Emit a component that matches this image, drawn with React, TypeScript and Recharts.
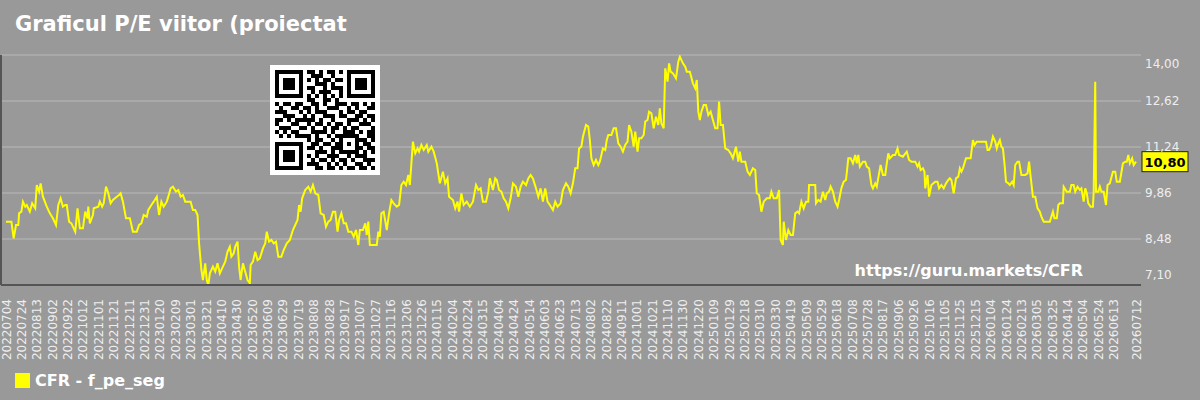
import React from "react";
import { LineChart, Line, XAxis, YAxis, CartesianGrid, ReferenceLine } from "recharts";

const title = "Graficul P/E viitor (proiectat";
const seriesName = "CFR - f_pe_seg";
const watermark = "https://guru.markets/CFR";

// x ticks, every 20 days + last day
const tickLabels = [
  "20220704", "20220724", "20220813", "20220902", "20220922", "20221012", "20221101", "20221121",
  "20221211", "20221231", "20230120", "20230209", "20230301", "20230321", "20230410", "20230430",
  "20230520", "20230609", "20230629", "20230719", "20230808", "20230828", "20230917", "20231007",
  "20231027", "20231116", "20231206", "20231226", "20240115", "20240204", "20240224", "20240315",
  "20240404", "20240424", "20240514", "20240603", "20240623", "20240713", "20240802", "20240822",
  "20240911", "20241001", "20241021", "20241110", "20241130", "20241220", "20250109", "20250129",
  "20250218", "20250310", "20250330", "20250419", "20250509", "20250529", "20250618", "20250708",
  "20250728", "20250817", "20250906", "20250926", "20251016", "20251105", "20251125", "20251215",
  "20260104", "20260124", "20260213", "20260305", "20260325", "20260414", "20260504", "20260524",
  "20260613", "20260712",
];

const yTicks = [7.1, 8.48, 9.86, 11.24, 12.62, 14.0];

// days since 2022-07-04
const dayOffsets = [
  0, 7, 10, 13, 16, 17, 20, 22, 25, 27,
  31, 34, 38, 40, 43, 45, 48, 53, 57, 61,
  65, 68, 71, 74, 77, 79, 82, 85, 90, 93,
  96, 100, 103, 106, 107, 109, 113, 114, 120, 122,
  125, 127, 130, 133, 136, 139, 144, 147, 149, 152,
  156, 161, 165, 170, 173, 176, 179, 183, 185, 189,
  192, 196, 199, 202, 205, 209, 211, 214, 217, 221,
  224, 227, 230, 233, 240, 243, 246, 249, 251, 254,
  256, 259, 261, 263, 265, 269, 272, 275, 278, 282,
  285, 288, 291, 293, 296, 298, 301, 303, 305, 308,
  311, 314, 317, 318, 321, 324, 327, 330, 334, 337,
  339, 342, 345, 348, 351, 354, 358, 361, 365, 369,
  373, 376, 379, 381, 383, 385, 389, 393, 396, 399,
  402, 406, 409, 413, 416, 419, 422, 425, 428, 431,
  433, 436, 439, 442, 445, 449, 452, 455, 458, 460,
  464, 467, 469, 471, 473, 482, 484, 486, 488, 491,
  495, 498, 501, 504, 508, 511, 514, 517, 520, 523,
  525, 529, 532, 535, 537, 540, 543, 547, 549, 553,
  556, 560, 564, 568, 571, 574, 576, 581, 584, 587,
  589, 592, 595, 599, 603, 607, 611, 614, 617, 620,
  624, 627, 629, 633, 636, 638, 641, 644, 647, 650,
  653, 656, 659, 663, 666, 669, 672, 676, 679, 682,
  685, 689, 692, 695, 698, 701, 704, 707, 711, 714,
  717, 721, 724, 728, 731, 734, 737, 740, 743, 745,
  748, 750, 754, 757, 759, 761, 764, 767, 770, 772,
  776, 779, 781, 783, 787, 790, 793, 796, 799, 802,
  805, 808, 810, 813, 816, 818, 821, 823, 826, 829,
  831, 834, 836, 839, 842, 845, 848, 850, 852, 855,
  857, 860, 862, 864, 867, 871, 874, 876, 880, 883,
  885, 889, 893, 896, 898, 900, 902, 904, 907, 910,
  913, 916, 919, 922, 925, 927, 929, 932, 935, 939,
  942, 945, 949, 952, 954, 956, 961, 964, 967, 971,
  974, 976, 979, 982, 985, 989, 993, 995, 998, 1002,
  1005, 1007, 1010, 1011, 1014, 1017, 1020, 1023, 1026, 1029,
  1031, 1034, 1037, 1040, 1043, 1044, 1052, 1053, 1056, 1059,
  1062, 1065, 1067, 1070, 1072, 1075, 1078, 1081, 1083, 1086,
  1089, 1092, 1095, 1098, 1101, 1104, 1106, 1108, 1110, 1114,
  1117, 1119, 1122, 1125, 1127, 1130, 1132, 1135, 1137, 1140,
  1143, 1145, 1147, 1149, 1153, 1156, 1159, 1161, 1166, 1171,
  1174, 1177, 1182, 1185, 1187, 1189, 1192, 1194, 1195, 1198,
  1200, 1203, 1208, 1211, 1213, 1216, 1219, 1222, 1225, 1227,
  1229, 1232, 1235, 1238, 1240, 1242, 1244, 1248, 1254, 1257,
  1259, 1262, 1274, 1276, 1278, 1280, 1283, 1286, 1288, 1290,
  1292, 1294, 1296, 1298, 1300, 1303, 1305, 1308, 1310, 1312,
  1315, 1317, 1320, 1325, 1328, 1330, 1332, 1335, 1338, 1341,
  1344, 1346, 1349, 1357, 1361, 1363, 1366, 1368, 1370, 1374,
  1375, 1379, 1383, 1385, 1388, 1390, 1393, 1396, 1398, 1401,
  1403, 1405, 1407, 1410, 1413, 1414, 1416, 1417, 1420, 1422,
  1424, 1427, 1430, 1432, 1435, 1439, 1442, 1444, 1448, 1452,
  1455, 1457, 1459, 1461, 1464, 1466, 1469,
];

const peValues = [
  9.0, 9.0, 8.5, 8.9, 8.9, 9.25, 9.3, 9.6, 9.45, 9.5,
  9.3, 9.55, 9.4, 10.1, 9.9, 10.15, 9.75, 9.45, 9.25, 9.1,
  8.9, 9.5, 9.7, 9.45, 9.5, 9.5, 9.0, 8.95, 8.7, 9.4,
  8.8, 8.8, 9.3, 9.1, 9.45, 8.95, 9.2, 9.4, 9.45, 9.6,
  9.45, 9.55, 10.05, 9.85, 9.55, 9.65, 9.75, 9.8, 9.85, 9.6,
  9.1, 9.1, 8.7, 8.7, 8.9, 8.95, 9.2, 9.15, 9.35, 9.5,
  9.6, 9.75, 9.2, 9.6, 9.45, 9.6, 9.75, 10.0, 10.05, 9.9,
  9.95, 9.75, 9.8, 9.6, 9.6, 9.35, 9.35, 9.2, 8.35, 7.55,
  7.25, 7.75, 7.25, 7.08, 7.45, 7.65, 7.5, 7.75, 7.45, 7.65,
  7.8, 8.1, 8.25, 7.95, 8.05, 8.25, 8.4, 7.65, 7.25, 7.75,
  7.5, 7.25, 7.15, 7.7, 7.8, 8.1, 7.85, 7.9, 8.2, 8.35,
  8.7, 8.4, 8.45, 8.35, 8.4, 7.95, 7.95, 8.15, 8.35, 8.45,
  8.75, 8.9, 9.05, 9.5, 9.3, 9.7, 9.95, 10.05, 9.9, 10.1,
  9.85, 9.8, 9.25, 9.2, 8.85, 9.0, 9.05, 9.3, 9.3, 8.7,
  9.05, 9.25, 8.95, 8.95, 8.7, 8.7, 8.55, 8.75, 8.3, 8.75,
  8.75, 8.95, 8.6, 9.0, 8.3, 8.3, 8.7, 8.55, 9.25, 9.3,
  8.75, 9.25, 9.65, 9.55, 9.45, 9.5, 10.1, 10.2, 10.1, 10.4,
  10.1, 11.4, 11.05, 11.2, 11.1, 11.3, 11.15, 11.3, 11.1, 11.25,
  11.1, 10.75, 10.15, 10.5, 10.15, 10.3, 9.75, 9.65, 9.4, 9.6,
  9.3, 9.85, 9.5, 9.6, 9.45, 9.6, 10.1, 9.95, 10.0, 9.6,
  9.6, 9.9, 10.3, 9.95, 10.3, 10.25, 9.95, 9.9, 9.7, 9.6,
  9.4, 9.7, 10.15, 10.05, 9.75, 10.05, 10.2, 10.1, 10.3, 10.4,
  10.3, 10.0, 9.75, 10.0, 9.6, 10.0, 9.6, 9.5, 9.35, 9.6,
  9.45, 9.55, 9.95, 10.15, 10.05, 9.85, 10.15, 10.6, 10.6, 11.2,
  11.25, 11.55, 11.9, 11.85, 11.45, 10.9, 10.7, 10.85, 10.7, 10.8,
  11.2, 11.15, 11.45, 11.6, 11.6, 11.8, 11.8, 11.35, 11.25, 11.1,
  11.3, 11.4, 11.9, 11.7, 11.25, 11.7, 11.1, 11.5, 11.5, 11.6,
  12.0, 12.05, 12.3, 12.25, 11.8, 12.15, 11.9, 12.4, 11.95, 11.8,
  13.6, 13.2, 13.75, 13.5, 13.45, 13.3, 13.8, 13.95, 13.75, 13.65,
  13.5, 13.5, 13.15, 13.0, 13.25, 12.3, 12.05, 12.3, 12.5, 12.5,
  12.2, 12.3, 12.05, 11.8, 11.8, 12.6, 11.9, 11.9, 11.2, 11.15,
  11.05, 10.9, 11.25, 10.8, 11.1, 10.8, 10.8, 10.5, 10.4, 10.6,
  10.55, 9.85, 9.8, 9.3, 9.6, 9.7, 9.7, 9.9, 9.7, 9.7,
  9.95, 8.45, 8.3, 9.0, 8.45, 8.75, 8.6, 8.6, 9.25, 9.3,
  9.25, 9.6, 9.4, 9.6, 9.6, 10.1, 10.1, 9.55, 9.65, 9.6,
  9.9, 9.65, 9.85, 9.9, 10.05, 9.9, 9.6, 9.45, 9.65, 10.0,
  10.2, 10.25, 10.9, 10.9, 10.75, 11.0, 10.75, 11.0, 10.65, 10.8,
  10.8, 10.65, 10.6, 10.1, 10.0, 10.15, 10.05, 10.45, 10.7, 10.4,
  10.4, 10.75, 11.05, 10.9, 11.0, 11.0, 11.2, 11.0, 10.95, 11.1,
  10.85, 10.8, 10.8, 10.65, 10.75, 10.55, 10.6, 10.5, 10.0, 10.4,
  9.75, 10.1, 10.2, 10.2, 10.0, 10.1, 10.0, 10.15, 10.25, 10.3,
  10.25, 9.85, 10.3, 10.35, 10.6, 10.5, 10.6, 10.9, 10.9, 11.45,
  11.3, 11.4, 11.4, 11.15, 11.15, 11.25, 11.55, 11.4, 11.2, 11.35,
  11.45, 11.25, 11.2, 10.75, 10.2, 10.15, 10.1, 10.2, 10.1, 10.7,
  10.8, 10.8, 10.4, 10.4, 10.45, 10.8, 10.35, 9.75, 9.75, 9.4,
  9.3, 9.15, 9.0, 9.0, 9.3, 9.1, 9.1, 9.5, 9.55, 9.55,
  10.05, 9.9, 9.9, 10.1, 10.1, 9.9, 10.05, 9.95, 10.0, 9.6,
  10.0, 9.85, 9.55, 9.45, 9.45, 9.9, 13.2, 9.9, 9.9, 10.05,
  9.9, 9.9, 9.5, 10.1, 10.15, 10.5, 10.5, 10.2, 10.2, 10.75,
  10.8, 10.8, 11.0, 10.75, 10.9, 10.7, 10.8,
];

// QR code picture in the corner (25x25 modules)
const qrRows = [
  "1111111011010110101111111",
  "1000001001110010001000001",
  "1011101010101101101011101",
  "1011101000111010001011101",
  "1011101011001011101011101",
  "1000001001011100101000001",
  "1111111010101010101111111",
  "0000000011001101000000000",
  "1011011001101001110110101",
  "0100110110100111001010011",
  "1110001010111000101101100",
  "0011100101001110110011011",
  "1101011111010010001110101",
  "1000110010110101101001110",
  "0111001101001011010110001",
  "1010110001111010011101011",
  "0101011110100101111110011",
  "0000000010110010100011101",
  "1111111001101101101010110",
  "1000001011010011100011011",
  "1011101000111010111110101",
  "1011101010100111001011100",
  "1011101001011010110100111",
  "1000001011100101010011010",
  "1111111000110110101101101",
];

const FONT = "DejaVu Sans, Verdana, sans-serif";
const BG = "#999999";
const LINE = "#ffff00";
const TEXT = "#eeeeee";

function toDay(s: string) {
  const t = Date.UTC(+s.slice(0, 4), +s.slice(4, 6) - 1, +s.slice(6, 8));
  const t0 = Date.UTC(2022, 6, 4);
  return Math.round((t - t0) / 86400000);
}

const tickDays = tickLabels.map(toDay);
const labelByDay = new Map(tickDays.map((d, i) => [d, tickLabels[i]]));
const data = dayOffsets.map((d, i) => ({ day: d, pe: peValues[i] }));
const lastValue = peValues[peValues.length - 1];
const fmt = (v: number) => v.toFixed(2).replace(".", ",");

// eslint-disable-next-line @typescript-eslint/no-explicit-any
function DateTick({ x, y, payload }: any) {
  return (
    <g transform={`translate(${x + 4.5},${y + 6}) rotate(-90)`}>
      <text textAnchor="end" fill={TEXT} fontSize={12} fontFamily={FONT}>
        {labelByDay.get(payload.value)}
      </text>
    </g>
  );
}

// eslint-disable-next-line @typescript-eslint/no-explicit-any
function ValueTick({ x, y, payload }: any) {
  const v = payload.value;
  // edge labels are kept inside the plot height
  const shift = v === yTicks[yTicks.length - 1] ? 9 : v === yTicks[0] ? -10 : 0;
  return (
    <text x={x - 4} y={y + shift + 4} textAnchor="start" fill={TEXT} fontSize={12} fontFamily={FONT}>
      {fmt(v)}
    </text>
  );
}

// eslint-disable-next-line @typescript-eslint/no-explicit-any
function LastLabel({ viewBox }: any) {
  if (!viewBox) return null;
  const x = viewBox.x + viewBox.width + 1;
  const y = viewBox.y;
  return (
    <g>
      <rect x={x} y={y - 10} width={46} height={20} fill={LINE} stroke="#222" strokeWidth={1} />
      <text x={x + 23} y={y + 5} textAnchor="middle" fontWeight="bold" fontSize={13} fontFamily={FONT} fill="#000">
        {fmt(lastValue)}
      </text>
    </g>
  );
}

function Overlay() {
  const qx = 275;
  const qy = 70;
  const m = 4;
  return (
    <svg width={1200} height={400} style={{ position: "absolute", left: 0, top: 0, pointerEvents: "none" }}>
      <text x={15} y={31} fill="#fff" fontWeight="bold" fontSize={21} fontFamily={FONT}>
        {title}
      </text>
      <rect x={270} y={65} width={110} height={110} fill="#fff" />
      {qrRows.map((row, r) =>
        row.split("").map((c, col) =>
          c === "1" ? <rect key={`${r}-${col}`} x={qx + col * m} y={qy + r * m} width={m} height={m} fill="#000" /> : null
        )
      )}
      <text x={1083} y={276} textAnchor="end" fill="#fff" fontWeight="bold" fontSize={16} fontFamily={FONT}>
        {watermark}
      </text>
      <rect x={15} y={373} width={15} height={15} fill={LINE} />
      <text x={35} y={386} fill="#fff" fontWeight="bold" fontSize={16} fontFamily={FONT}>
        {seriesName}
      </text>
    </svg>
  );
}

export default function App() {
  return (
    <div style={{ position: "relative", width: 1200, height: 400, background: BG }}>
      <style>{"body{margin:0}"}</style>
      <LineChart width={1200} height={400} data={data} margin={{ top: 55, right: 0, bottom: 0, left: 0 }}>
        <CartesianGrid yAxisId="r" horizontal vertical={false} stroke="#a9a9a9" strokeWidth={2} />
        <XAxis
          dataKey="day"
          type="number"
          domain={[0, 1469]}
          ticks={tickDays}
          interval={0}
          height={115}
          padding={{ left: 5, right: 5 }}
          tickLine={false}
          axisLine={{ stroke: "#555555", strokeWidth: 2 }}
          tick={<DateTick />}
        />
        <YAxis
          yAxisId="l"
          orientation="left"
          width={1}
          domain={[7.1, 14]}
          allowDataOverflow
          tick={false}
          tickLine={false}
          axisLine={{ stroke: "#555555", strokeWidth: 2 }}
        />
        <YAxis
          yAxisId="r"
          orientation="right"
          width={59}
          domain={[7.1, 14]}
          ticks={yTicks}
          allowDataOverflow
          interval={0}
          tickLine={false}
          axisLine={false}
          tick={<ValueTick />}
        />
        <Line
          yAxisId="r"
          type="linear"
          dataKey="pe"
          stroke={LINE}
          strokeWidth={2}
          dot={false}
          isAnimationActive={false}
        />
        <ReferenceLine yAxisId="r" y={lastValue} stroke="none" label={<LastLabel />} />
      </LineChart>
      <Overlay />
    </div>
  );
}
